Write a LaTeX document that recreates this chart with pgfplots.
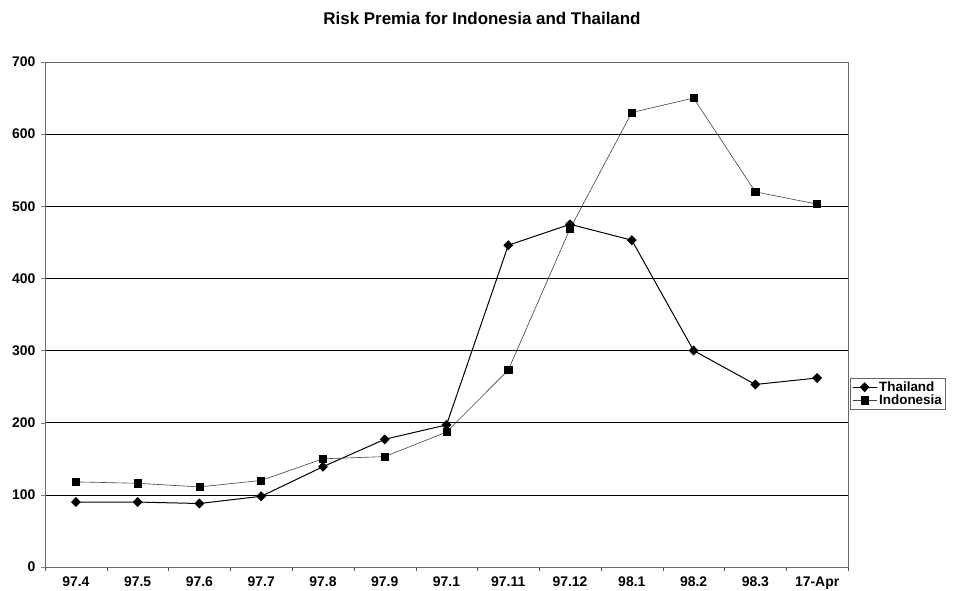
\documentclass[border=0pt]{standalone}
\usepackage{pgfplots}
\pgfplotsset{compat=1.18}
\usepackage{fontspec}
\setmainfont{Liberation Sans}
\begin{document}
\begin{tikzpicture}[x=1bp,y=1bp]
\path[use as bounding box] (0,0) rectangle (957,591);
\node[font=\bfseries\fontsize{17}{20}\selectfont] at (482,573) {Risk Premia for Indonesia and Thailand};
\begin{axis}[
  at={(45bp,24bp)}, anchor=south west,
  scale only axis, width=803bp, height=505bp,
  xmin=-0.5, xmax=12.5, ymin=0, ymax=700,
  xtick={0,...,12},
  xticklabels={97.4,97.5,97.6,97.7,97.8,97.9,97.1,97.11,97.12,98.1,98.2,98.3,17-Apr},
  major x tick style={draw=none},
  minor xtick={-0.5,0.5,...,12.5},
  minor x tick style={black!70},
  ytick={0,100,...,700},
  ymajorgrids, major grid style={black, line width=0.6pt},
  tick align=outside, tick pos=left,
  major tick length=4bp, minor tick length=4bp,
  axis line style={black!60, line width=0.6pt},
  ticklabel style={font=\bfseries\fontsize{14}{16}\selectfont},
  yticklabel style={xshift=-2bp},
  /pgf/number format/assume math mode=true,
  xticklabel style={yshift=-2bp},
  legend style={at={(1.003,0.343)}, anchor=west, draw=black!60, font=\bfseries\fontsize{13.5}{15}\selectfont, inner sep=1.5bp, row sep=-2bp},
  legend image code/.code={
    \draw[mark repeat=2,mark phase=2,#1] plot coordinates {(0bp,0bp) (12bp,0bp) (24bp,0bp)};
  },
  legend cell align=left,
  clip=false,
]
\addplot[black, line width=1pt, mark=diamond*, mark size=4.3bp, mark options={xscale=1.3}] coordinates {
(0,90) (1,90) (2,88) (3,98) (4,139) (5,177) (6,197) (7,446) (8,475) (9,453) (10,300) (11,253) (12,262)};
\addlegendentry{Thailand}
\addplot[black!75, line width=0.6pt, mark=square*, mark size=3.6bp, mark options={black, solid}] coordinates {
(0,118) (1,116) (2,111) (3,120) (4,150) (5,153) (6,187) (7,273) (8,469) (9,630) (10,650) (11,520) (12,503)};
\addlegendentry{Indonesia}
\end{axis}
\end{tikzpicture}
\end{document}
